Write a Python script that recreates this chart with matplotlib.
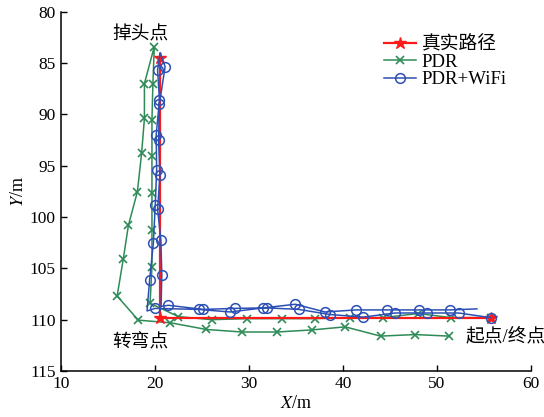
import numpy as np
import matplotlib
matplotlib.use("Agg")
import matplotlib.pyplot as plt

plt.rcParams['font.family'] = ['Liberation Serif', 'Noto Sans CJK SC']
plt.rcParams['mathtext.fontset'] = 'stix'

# real path (stars at start, corner, turnaround)
real_x = [55.7, 20.6, 20.6]
real_y = [109.8, 109.8, 84.5]

# PDR track (x markers)
pdr_x = [55.7, 51.5, 48.0, 44.3, 40.8, 37.05, 33.5, 29.8, 26.05, 22.5, 19.5,
         19.7, 19.7, 19.7, 19.7, 19.7, 19.8, 19.95,
         18.9, 18.9, 18.6, 18.15, 17.2, 16.65, 16.0, 18.25, 21.65, 25.45,
         29.25, 33.0, 36.7, 40.25, 44.0, 47.7, 51.25]
pdr_y = [109.8, 109.8, 109.4, 109.8, 109.8, 109.9, 109.9, 109.9, 110.0, 109.7, 108.4,
         104.85, 101.3, 97.7, 94.1, 90.55, 87.0, 83.4,
         87.0, 90.4, 93.8, 97.55, 100.8, 104.1, 107.7, 110.05, 110.3, 110.95,
         111.2, 111.2, 111.0, 110.7, 111.6, 111.45, 111.6]

# PDR+WiFi track (circles)
wifi_x = [55.7, 52.3, 48.95, 45.55, 42.15, 38.65, 35.3, 31.9, 28.55, 25.15, 21.45, 20.67,
          20.75, 20.65, 20.3, 20.55, 20.4, 20.5, 21.1, 20.56,
          20.3, 20.5, 20.15, 20.2, 20.05, 19.85, 19.45, 19.18,
          20.05, 24.65, 28.0, 31.55, 34.95, 38.1, 41.4, 44.7, 48.05, 51.4, 54.25]
wifi_y = [109.8, 109.35, 109.35, 109.35, 109.75, 109.5, 109.0, 108.85, 108.9, 109.0, 108.6, 108.7,
          105.65, 102.25, 99.25, 95.9, 92.5, 88.95, 85.35, 84.0,
          85.7, 88.6, 92.0, 95.45, 98.85, 102.55, 106.15, 109.15,
          108.9, 109.0, 109.25, 108.85, 108.5, 109.25, 109.05, 109.05, 109.05, 109.05, 108.95]
wifi_nomark = [11, 19, 27, 38]

fig = plt.figure(figsize=(5.44, 4.17), dpi=100)
ax = fig.add_axes([0.1116, 0.1103, 0.8645, 0.8617])

marks = [i for i in range(len(wifi_x)) if i not in wifi_nomark]
ax.plot(real_x, real_y, color='#ff1a1a', lw=1.6, marker='*', ms=9, label='真实路径', zorder=3)
ax.plot(pdr_x, pdr_y, color='#2e8b57', lw=1.1, marker='x', ms=6, mew=1.2, label='PDR', zorder=2)
ax.plot(wifi_x, wifi_y, color='#2d50b4', lw=1.1, marker='o', ms=7, mfc='none', mew=1.1,
        markevery=marks, label='PDR+WiFi', zorder=4)

ax.set_xlim(10, 60)
ax.set_ylim(115, 80)
ax.set_xticks(np.arange(10, 61, 10))
ax.set_yticks(np.arange(80, 116, 5))
ax.tick_params(direction='in', labelsize=12.5, length=4, width=1)
for s in ['top', 'right']:
    ax.spines[s].set_visible(False)
for s in ['left', 'bottom']:
    ax.spines[s].set_linewidth(1.1)

ax.set_xlabel('$X$/m', fontsize=13, labelpad=2)
ax.set_ylabel('$Y$/m', fontsize=13, labelpad=2)

ax.text(18.5, 82.3, '掉头点', fontsize=13.5, ha='center', va='center')
ax.text(18.5, 112.2, '转弯点', fontsize=13.5, ha='center', va='center')
ax.text(53.0, 111.7, '起点/终点', fontsize=13.5, ha='left', va='center', clip_on=False)

ax.legend(loc='upper left', bbox_to_anchor=(0.66, 0.968), frameon=False, fontsize=13.5,
          handlelength=1.7, labelspacing=0.0, borderpad=0.2, handletextpad=0.3)

fig.savefig('out.png', dpi=100)
